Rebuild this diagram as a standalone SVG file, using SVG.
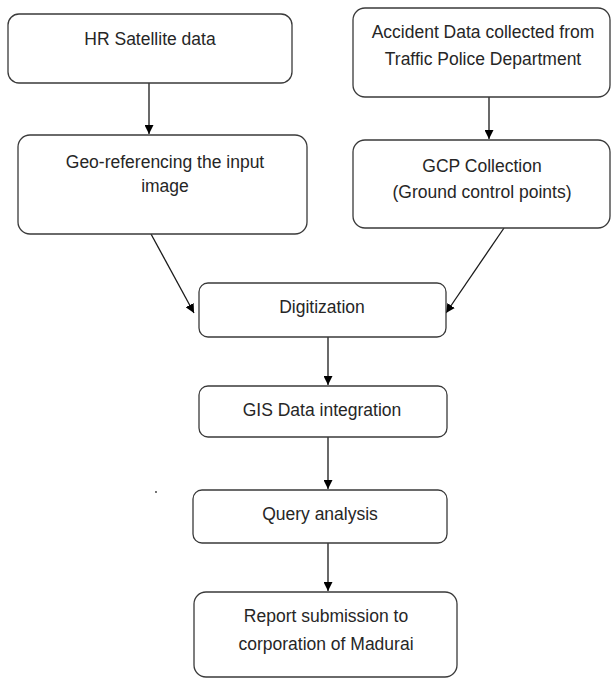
<svg xmlns="http://www.w3.org/2000/svg" width="611" height="679" viewBox="0 0 611 679">
<defs>
<style>
.box{fill:#fff;stroke:#3a3a3a;stroke-width:1.3}
.t{font-family:"Liberation Sans",Arial,sans-serif;font-size:17.5px;fill:#262626;text-anchor:middle}
.c{stroke:#1a1a1a;stroke-width:1.3;fill:none}
</style>
<marker id="ah" viewBox="0 0 10 10" refX="10" refY="5" markerWidth="9" markerHeight="9" markerUnits="userSpaceOnUse" orient="auto">
<path d="M0,0 L10,5 L0,10 z" fill="#000"/>
</marker>
</defs>
<rect width="611" height="679" fill="#fff"/>
<g id="connectors">
<line class="c" x1="149" y1="83" x2="149" y2="134" marker-end="url(#ah)"/>
<line class="c" x1="489" y1="97" x2="489" y2="139" marker-end="url(#ah)"/>
<line class="c" x1="151" y1="234" x2="194" y2="313" marker-end="url(#ah)"/>
<line class="c" x1="504" y1="228" x2="446" y2="313" marker-end="url(#ah)"/>
<line class="c" x1="328" y1="337" x2="328" y2="385" marker-end="url(#ah)"/>
<line class="c" x1="328" y1="437" x2="328" y2="489" marker-end="url(#ah)"/>
<line class="c" x1="328" y1="543" x2="328" y2="591" marker-end="url(#ah)"/>
</g>
<g id="n1"><rect class="box" x="8" y="14" width="284" height="69" rx="11"/><text class="t" x="150" y="45">HR Satellite data</text></g>
<g id="n2"><rect class="box" x="18" y="135" width="289" height="99" rx="12"/><text class="t" x="165" y="168">Geo-referencing the input</text><text class="t" x="165" y="192">image</text></g>
<g id="n3"><rect class="box" x="353" y="8" width="257" height="89" rx="12"/><text class="t" x="483" y="38">Accident Data collected from</text><text class="t" x="483" y="65">Traffic Police Department</text></g>
<g id="n4"><rect class="box" x="353" y="140" width="257" height="88" rx="12"/><text class="t" x="482" y="172">GCP Collection</text><text class="t" x="482" y="198">(Ground control points)</text></g>
<g id="n5"><rect class="box" x="199" y="283" width="247" height="54" rx="9"/><text class="t" x="322" y="313">Digitization</text></g>
<g id="n6"><rect class="box" x="199" y="386" width="248" height="51" rx="9"/><text class="t" x="322" y="416">GIS Data integration</text></g>
<g id="n7"><rect class="box" x="193" y="490" width="254" height="53" rx="9"/><text class="t" x="320" y="520">Query analysis</text></g>
<g id="n8"><rect class="box" x="194" y="592" width="263" height="85" rx="12"/><text class="t" x="326" y="622">Report submission to</text><text class="t" x="326" y="650">corporation of Madurai</text></g>
<circle cx="156" cy="492" r="0.9" fill="#333"/>
</svg>
